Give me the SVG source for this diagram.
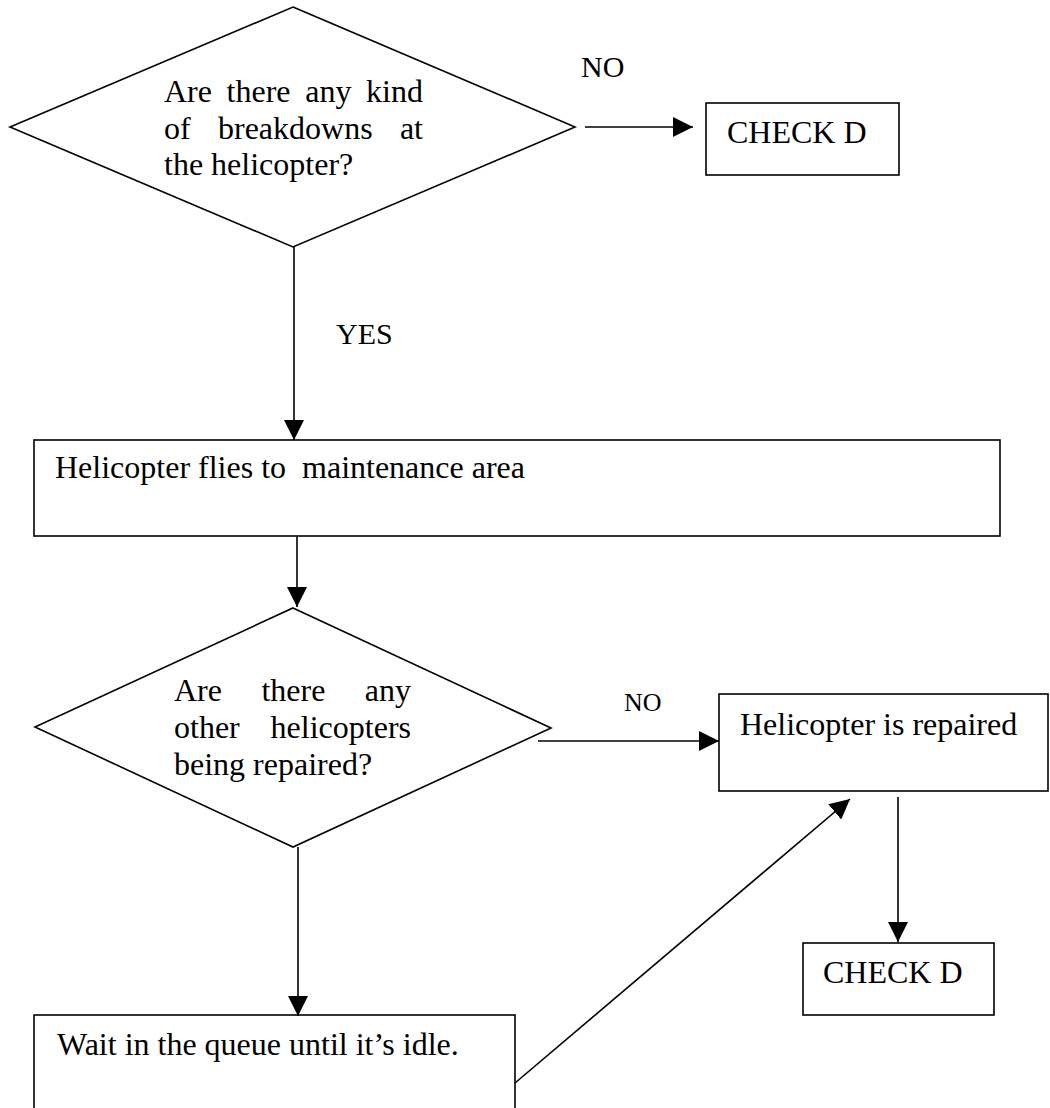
<svg xmlns="http://www.w3.org/2000/svg" width="1050" height="1108" viewBox="0 0 1050 1108">
  <style>
    .shape { fill: #ffffff; stroke: #000000; stroke-width: 1.6; }
    .edge { fill: none; stroke: #000000; stroke-width: 1.6; }
    .t { font-family: "Liberation Serif", "Times New Roman", serif; font-size: 32px; fill: #000000; }
    .lbl { font-family: "Liberation Serif", "Times New Roman", serif; font-size: 30px; fill: #000000; }
    .lbl-s { font-family: "Liberation Serif", "Times New Roman", serif; font-size: 26px; fill: #000000; }
  </style>
  <defs>
    <marker id="head" markerUnits="userSpaceOnUse" markerWidth="20" markerHeight="20" viewBox="0 0 20 20" refX="20" refY="10" orient="auto">
      <path d="M0,0 L20,10 L0,20 Z" fill="#000000"/>
    </marker>
  </defs>

  <rect width="1050" height="1108" fill="#ffffff"/>

  <!-- decision: breakdowns -->
  <g id="q-breakdowns">
    <polygon class="shape" points="293,7 575,127 293,247 10,127"/>
    <text class="t" y="102"><tspan x="164">Are</tspan><tspan x="226.6">there</tspan><tspan x="305.2">any</tspan><tspan x="423" text-anchor="end">kind</tspan></text>
    <text class="t" y="138.5"><tspan x="164">of</tspan><tspan x="218">breakdowns</tspan><tspan x="423" text-anchor="end">at</tspan></text>
    <text class="t" x="164" y="175">the helicopter?</text>
  </g>

  <!-- end: check D (top) -->
  <g id="check-d-1">
    <rect class="shape" x="706" y="103" width="193" height="72"/>
    <text class="t" x="727" y="143">CHECK D</text>
  </g>

  <!-- process: fly to maintenance area -->
  <g id="fly-maintenance">
    <rect class="shape" x="34" y="440" width="966" height="96"/>
    <text class="t" x="55" y="478" xml:space="preserve">Helicopter flies to  maintenance area</text>
  </g>

  <!-- decision: others being repaired -->
  <g id="q-others">
    <polygon class="shape" points="293,608 551,728 293,847 35,727"/>
    <text class="t" y="701"><tspan x="174">Are</tspan><tspan x="261.4">there</tspan><tspan x="411" text-anchor="end">any</tspan></text>
    <text class="t" y="738"><tspan x="174">other</tspan><tspan x="411" text-anchor="end">helicopters</tspan></text>
    <text class="t" x="174" y="775">being repaired?</text>
  </g>

  <!-- process: repaired -->
  <g id="repaired">
    <rect class="shape" x="719" y="694" width="329" height="97"/>
    <text class="t" x="740" y="735">Helicopter is repaired</text>
  </g>

  <!-- end: check D (bottom) -->
  <g id="check-d-2">
    <rect class="shape" x="803" y="943" width="191" height="72"/>
    <text class="t" x="823" y="983">CHECK D</text>
  </g>

  <!-- process: wait in queue -->
  <g id="wait-queue">
    <rect class="shape" x="34" y="1015" width="481" height="110"/>
    <text class="t" x="57" y="1055">Wait in the queue until it’s idle.</text>
  </g>

  <!-- connectors -->
  <g id="connectors">
    <line class="edge" x1="585" y1="127" x2="693" y2="127" marker-end="url(#head)"/>
    <text class="lbl" x="581" y="77">NO</text>

    <line class="edge" x1="294" y1="247" x2="294" y2="440" marker-end="url(#head)"/>
    <text class="lbl" x="336" y="344">YES</text>

    <line class="edge" x1="297" y1="536" x2="297" y2="607" marker-end="url(#head)"/>

    <line class="edge" x1="538" y1="741" x2="719" y2="741" marker-end="url(#head)"/>
    <text class="lbl-s" x="624" y="711">NO</text>

    <line class="edge" x1="298" y1="847" x2="298" y2="1016" marker-end="url(#head)"/>

    <line class="edge" x1="898" y1="797" x2="898" y2="942" marker-end="url(#head)"/>

    <line class="edge" x1="515" y1="1083" x2="850" y2="799" marker-end="url(#head)"/>
  </g>
</svg>
